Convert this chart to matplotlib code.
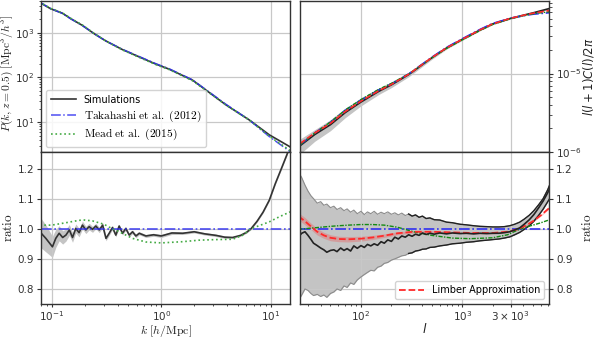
import numpy as np
import matplotlib
matplotlib.use("Agg")
from matplotlib import pyplot as plt
from matplotlib.ticker import FixedLocator, NullFormatter

# ---- matter power spectrum (top left) ----
k_pk = [0.077, 0.098, 0.125, 0.15, 0.191, 0.244, 0.313, 0.444, 0.63, 0.895,
        1.18, 1.93, 3.9, 6.36, 9.7, 14.8, 15.5]
pk_sim = [4800, 3420, 2730, 2040, 1450, 950, 650, 417, 287, 198,
          153, 87, 24.3, 11.2, 5.2, 2.86, 2.62]
pk_takahashi = [4850, 3450, 2700, 2030, 1440, 950, 650, 422, 292, 202,
                156, 88, 25.0, 11.2, 4.75, 2.25, 2.05]
pk_mead = [4900, 3480, 2770, 2080, 1480, 960, 650, 410, 280, 193,
           150, 84.5, 24.1, 11.2, 4.83, 2.38, 2.17]

# ---- P(k) ratio (bottom left) ----
k_ratio = [0.078, 0.0885, 0.1016, 0.109, 0.117, 0.126, 0.135, 0.145, 0.155, 0.166,
           0.178, 0.191, 0.205, 0.22, 0.236, 0.253, 0.272, 0.292, 0.313, 0.335,
           0.359, 0.385, 0.413, 0.443, 0.475, 0.51, 0.547, 0.587, 0.63, 0.724,
           0.85, 1.0, 1.25, 1.57, 2.0, 2.5, 3.16, 3.8, 4.48, 5.3,
           6.0, 6.6, 7.5, 8.5, 9.7, 11.0, 12.5, 14.0, 15.0]
ratio_sim = [0.99, 0.968, 0.94, 0.968, 0.985, 0.971, 0.979, 0.996, 0.971, 1.001,
             0.987, 1.012, 0.996, 1.007, 0.998, 1.009, 0.996, 1.012, 0.968, 0.985,
             1.004, 0.979, 1.009, 0.985, 1.001, 0.979, 0.99, 0.976, 0.985, 0.976,
             0.98, 0.976, 0.986, 0.985, 0.99, 0.983, 0.978, 0.972, 0.971, 0.978,
             0.988, 1.0, 1.025, 1.055, 1.095, 1.15, 1.2, 1.245, 1.275]
ratio_sim_err = [0.05, 0.045, 0.035, 0.03, 0.025, 0.022, 0.02, 0.018, 0.016, 0.015,
                 0.014, 0.013, 0.012, 0.011, 0.01, 0.009, 0.009, 0.008, 0.008, 0.007,
                 0.007, 0.006, 0.006, 0.006, 0.006, 0.006, 0.006, 0.006, 0.005, 0.005,
                 0.005, 0.005, 0.005, 0.004, 0.004, 0.004, 0.004, 0.004, 0.003, 0.003,
                 0.003, 0.003, 0.003, 0.003, 0.003, 0.003, 0.003, 0.003, 0.003]
k_mead = [0.078, 0.1, 0.135, 0.178, 0.2, 0.236, 0.3, 0.357, 0.413, 0.547,
          0.724, 1.0, 1.57, 2.2, 3.16, 4.48, 5.5, 6.6, 9.7, 12.0, 15.0]
ratio_mead = [1.012, 1.012, 1.02, 1.028, 1.029, 1.026, 1.015, 1.0, 0.99, 0.968,
              0.956, 0.953, 0.957, 0.962, 0.964, 0.965, 0.978, 1.0, 1.023, 1.04, 1.056]

# ---- lensing C(l) (top right), values in units of 1e-6 ----
ell_cl = [25, 35, 50, 70, 100, 150, 200, 300, 500, 700,
          1000, 1500, 2000, 3000, 4000, 5000, 7200]
cl_takahashi = [1.23, 1.75, 2.40, 3.40, 4.60, 6.20, 7.40, 10.0, 16.1, 21.5,
                27.7, 36.5, 43.5, 50.7, 54.5, 57.0, 59.5]
cl_sim = [1.20, 1.67, 2.23, 3.18, 4.33, 5.93, 7.18, 9.80, 15.86, 21.18,
          27.28, 35.95, 42.85, 50.45, 55.3, 59.3, 67.2]
cl_limber = [1.28, 1.75, 2.32, 3.28, 4.45, 6.04, 7.27, 9.90, 15.94, 21.24,
             27.31, 35.99, 42.89, 50.60, 55.15, 58.71, 63.55]
cl_mead = [1.23, 1.75, 2.41, 3.43, 4.66, 6.29, 7.49, 9.98, 15.81, 20.90,
           26.81, 35.33, 42.20, 49.94, 54.61, 57.68, 61.29]
cl_lo = [0.94, 1.37, 1.87, 2.74, 3.87, 5.41, 6.62, 9.2, 15.13, 20.43,
         26.45, 35.11, 42.02, 49.38, 54.23, 58.14, 66.0]
cl_hi = [1.46, 1.93, 2.58, 3.61, 4.83, 6.53, 7.78, 10.45, 16.62, 21.97,
         28.12, 36.83, 43.80, 51.11, 56.03, 60.14, 67.83]

# ---- C(l) ratio (bottom right) ----
ell_r = [24, 26, 28, 30, 32, 34, 37, 40, 43, 46, 50, 54, 58, 63, 68, 73, 79, 85, 92, 100,
         108, 116, 125, 135, 146, 158, 170, 184, 200, 216, 234, 253, 274, 296, 320, 346,
         375, 405, 440, 480, 530, 600, 700, 800, 950, 1100, 1300, 1500, 1750, 2000,
         2300, 2600, 2950, 3300, 3700, 4100, 4600, 5100, 5700, 6300, 7000, 7300]
cl_ratio_sim = [0.972, 0.985, 0.99, 0.978, 0.965, 0.952, 0.944, 0.936, 0.93, 0.922,
                0.928, 0.93, 0.924, 0.936, 0.928, 0.934, 0.926, 0.943, 0.935, 0.944,
                0.938, 0.948, 0.943, 0.95, 0.945, 0.957, 0.952, 0.963, 0.958, 0.972,
                0.966, 0.976, 0.972, 0.98, 0.975, 0.982, 0.978, 0.986, 0.981, 0.985,
                0.982, 0.986, 0.983, 0.986, 0.984, 0.985, 0.983, 0.985, 0.984, 0.985,
                0.985, 0.987, 0.99, 0.996, 1.003, 1.015, 1.03, 1.047, 1.07, 1.092,
                1.12, 1.133]
cl_ratio_hi = [1.19, 1.17, 1.145, 1.125, 1.11, 1.1, 1.085, 1.09, 1.078, 1.082,
               1.07, 1.075, 1.064, 1.07, 1.06, 1.066, 1.055, 1.062, 1.05, 1.058,
               1.047, 1.056, 1.05, 1.058, 1.048, 1.055, 1.05, 1.056, 1.048, 1.053,
               1.046, 1.052, 1.044, 1.049, 1.042, 1.046, 1.038, 1.042, 1.034, 1.036,
               1.03, 1.029, 1.022, 1.02, 1.015, 1.013, 1.01, 1.008, 1.007, 1.006,
               1.006, 1.007, 1.01, 1.015, 1.022, 1.032, 1.045, 1.06, 1.08, 1.1,
               1.13, 1.145]
cl_ratio_lo = [0.76, 0.78, 0.8, 0.795, 0.785, 0.778, 0.782, 0.775, 0.78, 0.772,
               0.785, 0.79, 0.8, 0.795, 0.81, 0.805, 0.82, 0.815, 0.83, 0.84,
               0.848, 0.855, 0.862, 0.86, 0.872, 0.876, 0.885, 0.888, 0.896, 0.9,
               0.905, 0.91, 0.912, 0.918, 0.92, 0.926, 0.928, 0.932, 0.933, 0.938,
               0.939, 0.943, 0.946, 0.95, 0.952, 0.955, 0.957, 0.96, 0.962, 0.964,
               0.966, 0.969, 0.973, 0.98, 0.988, 0.998, 1.01, 1.025, 1.045, 1.065,
               1.09, 1.1]
ell_smooth = [24, 28, 32, 37, 43, 50, 60, 75, 100, 130, 170, 230, 330, 500, 800,
              1200, 2000, 2800, 3500, 4200, 5000, 6000, 7300]
cl_ratio_limber = [1.042, 1.025, 1.008, 0.99, 0.978, 0.97, 0.966, 0.965, 0.967, 0.971,
                   0.977, 0.985, 0.99, 0.99, 0.988, 0.986, 0.986, 0.99, 0.998, 1.01,
                   1.025, 1.045, 1.07]
cl_ratio_limber_err = [0.012, 0.012, 0.011, 0.011, 0.01, 0.01, 0.009, 0.009, 0.008, 0.007,
                       0.006, 0.005, 0.004, 0.003, 0.003, 0.003, 0.003, 0.003, 0.003, 0.003,
                       0.003, 0.003, 0.003]
cl_ratio_mead = [0.998, 1.0, 1.002, 1.004, 1.006, 1.008, 1.01, 1.012, 1.014, 1.014,
                 1.012, 1.005, 0.99, 0.978, 0.969, 0.967, 0.97, 0.98, 0.995, 1.005,
                 1.012, 1.02, 1.03]

plt.rcParams.update({
    "axes.edgecolor": "#333333",
    "axes.linewidth": 1.0,
    "xtick.color": "#333333",
    "ytick.color": "#333333",
    "xtick.labelsize": 7.5,
    "ytick.labelsize": 7.5,
    "xtick.major.size": 2.5,
    "ytick.major.size": 3,
    "xtick.minor.size": 1.6,
    "ytick.minor.size": 1.8,
    "xtick.major.pad": 1.2,
    "ytick.major.pad": 2,
    "xtick.minor.pad": 1.2,
    "ytick.minor.pad": 2,
    "axes.labelsize": 9.5,
    "axes.labelcolor": "#222222",
    "grid.color": "#c8c8c8",
    "grid.linewidth": 0.9,
    "legend.fontsize": 7,
})

BAND = "#c4c4c4"
BLUE = "#3030f0"
GREEN_DOT = "#44aa44"
GREEN = "#138a13"
RED = "#ff2a2a"

fig = plt.figure(figsize=(5.95, 3.38), dpi=100)
ax_pk = fig.add_axes([0.069, 0.5503, 0.4185, 0.4467])
ax_pr = fig.add_axes([0.069, 0.1006, 0.4185, 0.4497], sharex=ax_pk)
ax_cl = fig.add_axes([0.5042, 0.5503, 0.4185, 0.4467])
ax_cr = fig.add_axes([0.5042, 0.1006, 0.4185, 0.4497], sharex=ax_cl)

# top left: P(k)
ax_pk.plot(k_pk, pk_sim, color="#333333", lw=1.2, label="Simulations")
ax_pk.plot(k_pk, pk_takahashi, color=BLUE, ls="-.", lw=1.1, alpha=0.85,
           label=r"$\mathrm{Takahashi\ et\ al.\ (2012)}$")
ax_pk.plot(k_pk, pk_mead, color=GREEN_DOT, ls=":", lw=1.2,
           label=r"$\mathrm{Mead\ et\ al.\ (2015)}$")
ax_pk.set_xscale("log")
ax_pk.set_yscale("log")
ax_pk.set_xlim(0.08, 15)
ax_pk.set_ylim(2.15, 5100)
ax_pk.grid(True)
ax_pk.tick_params(labelbottom=False)
ax_pk.set_ylabel(r"$P(k, z=0.5)\ [\mathrm{Mpc}^3/h^3]$", math_fontfamily="cm", fontsize=8.3)
ax_pk.yaxis.set_label_coords(-0.1, 0.52)
leg = ax_pk.legend(loc="lower left", handlelength=2.6, framealpha=0.85,
                   edgecolor="#cccccc", borderpad=0.5, labelspacing=0.35)
for t in leg.get_texts()[1:]:
    t.set_math_fontfamily("cm")
    t.set_fontsize(8.2)

# bottom left: ratio
k_arr = np.array(k_ratio)
r_arr = np.array(ratio_sim)
e_arr = np.array(ratio_sim_err)
ax_pr.fill_between(k_arr, r_arr - e_arr, r_arr + e_arr, color=BAND, lw=0)
ax_pr.plot(k_arr, r_arr, color="#333333", lw=1.2)
ax_pr.axhline(1.0, color=BLUE, ls="-.", lw=1.2, alpha=0.85)
ax_pr.plot(k_mead, ratio_mead, color=GREEN_DOT, ls=":", lw=1.2)
ax_pr.set_ylim(0.75, 1.255)
ax_pr.set_yticks([0.8, 0.9, 1.0, 1.1, 1.2])
ax_pr.grid(True)
ax_pr.set_ylabel(r"$\mathrm{ratio}$", math_fontfamily="cm")
ax_pr.yaxis.set_label_coords(-0.105, 0.5)
ax_pr.set_xlabel(r"$k\ [h/\mathrm{Mpc}]$", math_fontfamily="cm", fontsize=8.5)
ax_pr.xaxis.set_label_coords(0.5, -0.124)

# top right: C(l)
scale = 1e-6
ax_cl.fill_between(ell_cl, np.array(cl_lo) * scale, np.array(cl_hi) * scale, color=BAND, lw=0)
ax_cl.plot(ell_cl, np.array(cl_sim) * scale, color="#222222", lw=1.2)
ax_cl.plot(ell_cl, np.array(cl_takahashi) * scale, color=BLUE, ls="-.", lw=1.2)
ax_cl.plot(ell_cl, np.array(cl_mead) * scale, color=GREEN, ls=(0, (3, 1, 1, 1)), lw=1.0)
ax_cl.plot(ell_cl, np.array(cl_limber) * scale, color=RED, ls="--", lw=1.2)
ax_cl.set_xscale("log")
ax_cl.set_yscale("log")
ax_cl.set_xlim(25, 7200)
ax_cl.set_ylim(1e-6, 8.4e-5)
ax_cl.grid(True)
ax_cl.yaxis.tick_right()
ax_cl.yaxis.set_label_position("right")
ax_cl.tick_params(labelbottom=False)
ax_cl.set_ylabel(r"$l(l+1)C(l)/2\pi$", fontsize=8.5)
ax_cl.yaxis.set_label_coords(1.128, 0.5)

# bottom right: ratio
ell_arr = np.array(ell_r)
hi = np.array(cl_ratio_hi)
lo = np.array(cl_ratio_lo)
ax_cr.fill_between(ell_arr, lo, hi, color=BAND, lw=0)
ax_cr.plot(ell_arr, hi, color="#8c8c8c", lw=0.8)
ax_cr.plot(ell_arr, lo, color="#8c8c8c", lw=0.8)
late = ell_arr >= 280
ax_cr.plot(ell_arr[late], hi[late], color="#222222", lw=1.0)
ax_cr.plot(ell_arr[late], lo[late], color="#222222", lw=1.0)
ax_cr.axhline(1.0, color=BLUE, ls="-.", lw=1.2)
ax_cr.plot(ell_smooth, cl_ratio_mead, color=GREEN, ls=(0, (3, 1, 1, 1)), lw=1.0)
lim = np.array(cl_ratio_limber)
lim_err = np.array(cl_ratio_limber_err)
ax_cr.fill_between(ell_smooth, lim - lim_err, lim + lim_err, color=RED, alpha=0.25, lw=0)
ax_cr.plot(ell_smooth, lim, color=RED, ls="--", lw=1.3, label="Limber Approximation")
ax_cr.plot(ell_arr, cl_ratio_sim, color="#222222", lw=1.2)
ax_cr.set_ylim(0.75, 1.255)
ax_cr.set_yticks([0.8, 0.9, 1.0, 1.1, 1.2])
ax_cr.xaxis.set_major_locator(FixedLocator([100, 1000, 3000]))
ax_cr.set_xticklabels([r"$10^2$", r"$10^3$", r"$3\times10^3$"])
ax_cr.xaxis.set_minor_formatter(NullFormatter())
ax_cr.grid(True)
ax_cr.yaxis.tick_right()
ax_cr.yaxis.set_label_position("right")
ax_cr.set_ylabel(r"$\mathrm{ratio}$", math_fontfamily="cm")
ax_cr.yaxis.set_label_coords(1.128, 0.5)
ax_cr.set_xlabel(r"$l$", fontsize=9)
ax_cr.xaxis.set_label_coords(0.5, -0.12)
ax_cr.legend(loc="lower right", handlelength=2.6, framealpha=0.85, edgecolor="#cccccc")

fig.savefig("out.png", dpi=100)
